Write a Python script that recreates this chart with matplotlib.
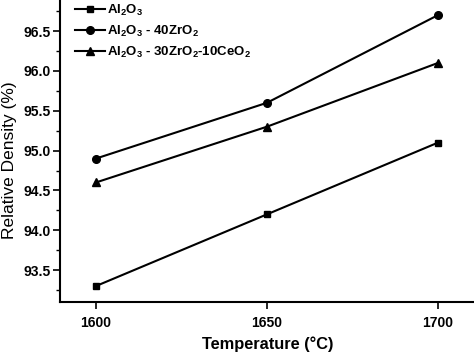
import matplotlib
matplotlib.use("Agg")
import matplotlib.pyplot as plt
from matplotlib.ticker import MultipleLocator

plt.rcParams['font.family'] = ['Liberation Sans', 'DejaVu Sans']
plt.rcParams['font.weight'] = 'bold'
plt.rcParams['axes.labelweight'] = 'bold'
plt.rcParams['mathtext.fontset'] = 'custom'
plt.rcParams['mathtext.rm'] = 'Liberation Sans:bold'
plt.rcParams['mathtext.bf'] = 'Liberation Sans:bold'
plt.rcParams['mathtext.default'] = 'bf'

temps = [1600, 1650, 1700]
al2o3 = [93.3, 94.2, 95.1]
al2o3_zr = [94.9, 95.6, 96.7]
al2o3_zr_ce = [94.6, 95.3, 96.1]
labels = ['Al$_2$O$_3$', 'Al$_2$O$_3$ - 40ZrO$_2$', 'Al$_2$O$_3$ - 30ZrO$_2$-10CeO$_2$']

fig = plt.figure(figsize=(4.74, 3.53), dpi=100)
# axes runs past the top and right edges, like the cropped original
ax = fig.add_axes([60 / 474, 51 / 353, 429.3 / 474, 306.8 / 353])

ax.plot(temps, al2o3, 'k-', marker='s', ms=5, lw=1.5, label=labels[0])
ax.plot(temps, al2o3_zr, 'k-', marker='o', ms=5.5, lw=1.5, label=labels[1])
ax.plot(temps, al2o3_zr_ce, 'k-', marker='^', ms=6, lw=1.5, label=labels[2])

ax.set_xlim(1589.5, 1715)
ax.set_ylim(93.1, 96.95)
ax.set_xticks(temps)
ax.yaxis.set_major_locator(MultipleLocator(0.5))
ax.yaxis.set_minor_locator(MultipleLocator(0.25))
ax.tick_params(axis='both', which='major', length=5, width=1.2, labelsize=10)
ax.tick_params(axis='y', which='major', pad=2)
ax.tick_params(axis='x', which='major', pad=5)
ax.tick_params(axis='y', which='minor', length=3, width=1)
for s in ax.spines.values():
    s.set_linewidth(1.5)

ax.set_xlabel('Temperature (\u00b0C)', fontsize=11.8)
ax.xaxis.set_label_coords(268 / 474, 17 / 353, transform=fig.transFigure)
ax.set_ylabel('Relative Density (%)', fontsize=12.5, fontweight='normal')
ax.yaxis.set_label_coords(17 / 474, 193 / 353, transform=fig.transFigure)

ax.legend(loc='upper left', bbox_to_anchor=(68 / 474, 1.0 + 4 / 353), bbox_transform=fig.transFigure,
          frameon=False, fontsize=9.5, handlelength=2.3, handletextpad=0.15,
          labelspacing=0.45, borderpad=0.0)

fig.savefig('out.png', dpi=100)
